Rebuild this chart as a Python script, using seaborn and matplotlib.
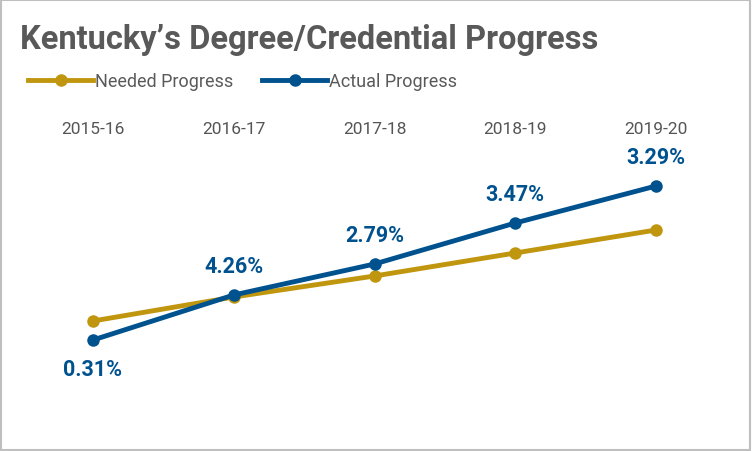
import matplotlib
matplotlib.use("Agg")
import matplotlib.pyplot as plt
import seaborn as sns
import pandas as pd
from matplotlib.lines import Line2D
from matplotlib.patches import Rectangle

years = ["2015-16", "2016-17", "2017-18", "2018-19", "2019-20"]
needed = [130, 154, 175, 198, 221]
actual = [111, 156, 187, 228, 265]
actual_labels = ["0.31%", "4.26%", "2.79%", "3.47%", "3.29%"]

gold = "#C1960F"
blue = "#00528F"
plt.rcParams["font.family"] = "Roboto"

fig = plt.figure(figsize=(7.52, 4.52), dpi=100)
ax = fig.add_axes([0, 0, 1, 1])
x = list(range(len(years)))
df = pd.DataFrame({"x": x + x, "y": needed + actual,
                   "s": ["Needed Progress"] * 5 + ["Actual Progress"] * 5})
sns.lineplot(data=df, x="x", y="y", hue="s", palette={"Needed Progress": gold, "Actual Progress": blue},
             marker="o", markersize=9, markeredgewidth=0, linewidth=3.5, legend=False, ax=ax)

px = 140.75
ax.set_xlim(-93 / px, (752 - 93) / px)
ax.set_ylim(0, 452)
ax.axis("off")

for i, (v, lab) in enumerate(zip(actual, actual_labels)):
    dy = -29 if i == 0 else 29
    ax.text(i, v + dy, lab, color=blue, fontsize=15.5, fontweight="bold", ha="center", va="center")
for i, yr in enumerate(years):
    ax.text(i, 452 - 130, yr, color="#555555", fontsize=12.5, ha="center", va="center")

fig.text(20 / 752, 1 - 40 / 452, "Kentucky\u2019s Degree/Credential Progress", color="#595959",
         fontsize=23.5, fontweight="bold", va="center", ha="left")
handles = [Line2D([0], [0], color=gold, lw=3.5, marker="o", markersize=8),
           Line2D([0], [0], color=blue, lw=3.5, marker="o", markersize=8)]
fig.legend(handles, ["Needed Progress", "Actual Progress"], loc="center left",
           bbox_to_anchor=(12 / 752, 1 - 82 / 452), ncol=2, frameon=False, fontsize=13,
           handlelength=3.6, handletextpad=0.1, columnspacing=1.6, labelcolor="#595959")
fig.patches.append(Rectangle((0.001, 0.002), 0.997, 0.995, transform=fig.transFigure,
                             fill=False, edgecolor="#BFBFBF", lw=1.5))
fig.savefig("out.png", dpi=100)
